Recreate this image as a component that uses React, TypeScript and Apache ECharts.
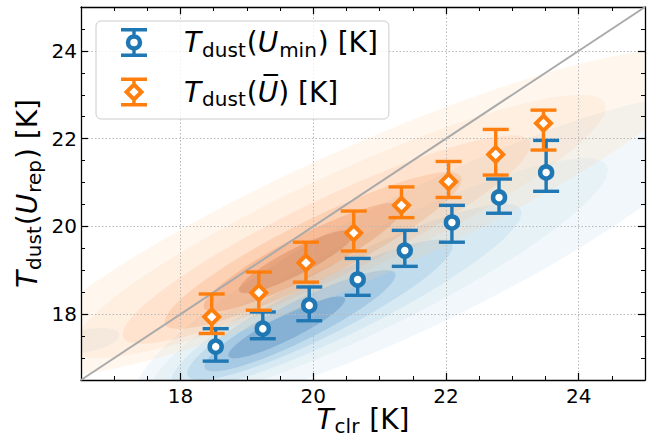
import React, { useEffect, useRef } from 'react';
import * as echarts from 'echarts';

// ---------- data ----------
const axisRange = [16.5, 25];
const majorTicks = [18, 20, 22, 24];
const minorTicks = [17, 17.5, 18.5, 19, 19.5, 20.5, 21, 21.5, 22.5, 23, 23.5, 24.5];
const oneToOne = [16.5, 25];

// T_dust(U_min)
const tclrMin = [18.53, 19.24, 19.94, 20.67, 21.38, 22.09, 22.8, 23.51];
const tdustMin = [17.26, 17.67, 18.2, 18.79, 19.45, 20.09, 20.66, 21.23];
const tdustMinLow = [16.93, 17.44, 17.85, 18.43, 19.09, 19.64, 20.3, 20.8];
const tdustMinHigh = [17.67, 18.05, 18.62, 19.27, 19.91, 20.48, 21.08, 21.96];

// T_dust(U_bar)
const tclrBar = [18.47, 19.18, 19.89, 20.61, 21.33, 22.04, 22.75, 23.47];
const tdustBar = [17.94, 18.49, 19.17, 19.85, 20.48, 21.02, 21.64, 22.35];
const tdustBarLow = [17.56, 18.09, 18.73, 19.44, 20.2, 20.66, 21.17, 21.74];
const tdustBarHigh = [18.46, 18.96, 19.64, 20.35, 20.9, 21.48, 22.21, 22.65];

// density contour levels: [centre x, centre y, half-length, half-width, angle(deg), level]
const blueContours = [
  [21.8, 19.4, 5.6, 1.35, 38, 0],
  [16.6, 17.4, 0.5, 0.25, 20, 0],
  [21.0, 18.8, 4.3, 0.95, 38, 1],
  [20.5, 18.4, 3.3, 0.72, 38, 2],
  [20.1, 18.1, 2.5, 0.55, 38, 3],
  [19.8, 17.85, 1.8, 0.4, 38, 4],
  [19.6, 17.7, 1.1, 0.25, 38, 5],
];
const orangeContours = [
  [20.7, 20.3, 6.2, 1.35, 35, 0],
  [20.4, 20.0, 4.9, 1.05, 36, 1],
  [20.2, 19.7, 3.8, 0.8, 37, 2],
  [20.0, 19.45, 2.8, 0.6, 38, 3],
  [19.85, 19.3, 1.9, 0.42, 39, 4],
  [19.75, 19.2, 1.1, 0.26, 39, 5],
];

const legendNames = ['Tmin', 'Tbar'];
const legendLabels: Record<string, string> = {
  Tmin: '{sp| }{it|T}{sub|dust}{n|(}{it|U}{sub|min}{n|) [K]}',
  Tbar: '{sp| }{it|T}{sub|dust}{n|(}{it|U\u0305}{n|) [K]}',
};
const xTitle = '{it|T}{sub|clr}{n| [K]}';
const yTitle = '{it|T}{sub|dust}{n|(}{it|U}{sub|rep}{n|) [K]}';

// ---------- styles ----------
const BLUE = '#1f77b4';
const ORANGE = '#ff7f0e';
const FONT = 'DejaVu Sans';
const blueLevels = ['#c6dbef', '#9ecae1', '#6baed6', '#4292c6', '#2171b5', '#08519c'];
const blueAlpha = [0.22, 0.12, 0.13, 0.15, 0.17, 0.2];
const orangeLevels = ['#fdd0a2', '#fdae6b', '#fd8d3c', '#f16913', '#d94801', '#a63603'];
const orangeAlpha = [0.18, 0.1, 0.11, 0.14, 0.16, 0.18];

const blueIcon =
  'path://M0 0H26V3.4H0Z M0 25.6H26V29H0Z M11.3 3.4H14.7V7.2H11.3Z M11.3 21.8H14.7V25.6H11.3Z ' +
  'M21.25 14.5A8.25 8.25 0 1 1 4.75 14.5A8.25 8.25 0 1 1 21.25 14.5Z ' +
  'M16.75 14.5A3.75 3.75 0 1 0 9.25 14.5A3.75 3.75 0 1 0 16.75 14.5Z';
const orangeIcon =
  'path://M0 0H26V3.4H0Z M0 25.6H26V29H0Z M11.3 3.4H14.7V6.5H11.3Z M11.3 22.5H14.7V25.6H11.3Z ' +
  'M13 4.2L23.3 14.5L13 24.8L2.7 14.5Z M13 9.9L8.4 14.5L13 19.1L17.6 14.5Z';

const richText = (size: number, sub: number, pad: number) => ({
  it: { fontFamily: FONT, fontStyle: 'italic', fontSize: size, color: '#000' },
  n: { fontFamily: FONT, fontSize: size, color: '#000' },
  sub: { fontFamily: FONT, fontSize: sub, color: '#000', padding: [pad, 1, 0, 1] },
  sp: { width: 32, fontSize: size },
});

const GRID = { left: 81, right: 14, top: 7, bottom: 57, containLabel: false, outerBoundsMode: 'none' };

function contourSeries(data: number[][], colors: string[], alphas: number[], z: number) {
  return {
    type: 'custom',
    z,
    silent: true,
    clip: true,
    dimensions: ['cx', 'cy', 'a', 'b', 'ang', 'lvl'],
    encode: { x: 0, y: 1 },
    data,
    renderItem: (_p: any, api: any) => {
      const cx = api.value(0), cy = api.value(1), a = api.value(2), b = api.value(3);
      const th = (api.value(4) * Math.PI) / 180;
      const lvl = api.value(5);
      const pts: number[][] = [];
      for (let i = 0; i < 90; i++) {
        const t = (i / 90) * Math.PI * 2;
        const dx = a * Math.cos(t), dy = b * Math.sin(t);
        pts.push(api.coord([cx + dx * Math.cos(th) - dy * Math.sin(th), cy + dx * Math.sin(th) + dy * Math.cos(th)]));
      }
      return { type: 'polygon', shape: { points: pts }, style: { fill: colors[lvl], opacity: alphas[lvl] } };
    },
  };
}

function errorSeries(name: string, xs: number[], lo: number[], hi: number[], color: string, z: number) {
  return {
    type: 'custom',
    name,
    z,
    encode: { x: 0, y: [1, 2] },
    data: xs.map((x, i) => [x, lo[i], hi[i]]),
    renderItem: (_p: any, api: any) => {
      const top = api.coord([api.value(0), api.value(2)]);
      const bot = api.coord([api.value(0), api.value(1)]);
      const st = { stroke: color, lineWidth: 3.4 };
      return {
        type: 'group',
        children: [
          { type: 'line', shape: { x1: top[0], y1: top[1], x2: bot[0], y2: bot[1] }, style: st },
          { type: 'line', shape: { x1: top[0] - 13, y1: top[1], x2: top[0] + 13, y2: top[1] }, style: st },
          { type: 'line', shape: { x1: bot[0] - 13, y1: bot[1], x2: bot[0] + 13, y2: bot[1] }, style: st },
        ],
      };
    },
  };
}

const majorAxis = (pos: string, labels: boolean, nameCfg: any = {}) => ({
  type: 'value',
  gridIndex: 0,
  position: pos,
  min: axisRange[0],
  max: axisRange[1],
  nameMoveOverlap: false,
  axisLine: { show: true, onZero: false, lineStyle: { color: '#000', width: 1.3 } },
  axisTick: { show: true, inside: true, length: 7, customValues: majorTicks, lineStyle: { color: '#000', width: 1.2 } },
  axisLabel: {
    show: labels,
    customValues: majorTicks,
    fontSize: 20,
    fontFamily: FONT,
    color: '#000',
    margin: pos === 'left' ? 4 : 6,
  },
  splitLine: labels
    ? { show: true, lineStyle: { color: '#b8b8b8', width: 1, type: [1.5, 2] } }
    : { show: false },
  ...nameCfg,
});

const minorAxis = (pos: string) => ({
  type: 'value',
  gridIndex: 1,
  position: pos,
  min: axisRange[0],
  max: axisRange[1],
  axisLine: { show: false },
  axisTick: { show: true, inside: true, length: 4, customValues: minorTicks, lineStyle: { color: '#000', width: 1 } },
  axisLabel: { show: false },
  splitLine: { show: false },
});

export default function App() {
  const ref = useRef<HTMLDivElement>(null);
  useEffect(() => {
    document.body.style.margin = '0';
    if (!ref.current) return;
    const chart = echarts.init(ref.current, null, { renderer: 'svg' });
    chart.setOption({
      animation: false,
      backgroundColor: '#ffffff',
      grid: [{ ...GRID }, { ...GRID }],
      xAxis: [
        majorAxis('bottom', true, {
          name: xTitle,
          nameLocation: 'middle',
          nameGap: 22,
          nameTextStyle: { rich: richText(28, 20, 14) },
        }),
        majorAxis('top', false),
        minorAxis('bottom'),
        minorAxis('top'),
      ],
      yAxis: [
        majorAxis('left', true, {
          name: yTitle,
          nameLocation: 'middle',
          nameGap: 37,
          nameTextStyle: { rich: richText(28, 20, 14) },
        }),
        majorAxis('right', false),
        minorAxis('left'),
        minorAxis('right'),
      ],
      legend: {
        left: 96,
        top: 21,
        orient: 'vertical',
        selectedMode: false,
        padding: [7, 11, 10, 25],
        itemGap: 18,
        itemWidth: 26,
        itemHeight: 29,
        backgroundColor: 'rgba(255,255,255,0.8)',
        borderColor: '#cccccc',
        borderWidth: 1,
        borderRadius: 5,
        data: [
          { name: legendNames[0], icon: blueIcon, itemStyle: { color: BLUE, borderWidth: 0, borderColor: 'transparent' } },
          { name: legendNames[1], icon: orangeIcon, itemStyle: { color: ORANGE, borderWidth: 0, borderColor: 'transparent' } },
        ],
        formatter: (n: string) => legendLabels[n],
        textStyle: { color: '#000', fontSize: 28, fontFamily: FONT, rich: richText(28, 20, 14) },
      },
      series: [
        contourSeries(blueContours, blueLevels, blueAlpha, -2),
        contourSeries(orangeContours, orangeLevels, orangeAlpha, -1),
        {
          type: 'line',
          z: 2,
          silent: true,
          symbol: 'none',
          data: oneToOne.map((v) => [v, v]),
          lineStyle: { color: '#aaaaaa', width: 2 },
        },
        errorSeries(legendNames[0], tclrMin, tdustMinLow, tdustMinHigh, BLUE, 3),
        {
          type: 'scatter',
          name: legendNames[0],
          z: 4,
          symbol: 'circle',
          symbolSize: 12,
          data: tclrMin.map((x, i) => [x, tdustMin[i]]),
          itemStyle: { color: '#ffffff', borderColor: BLUE, borderWidth: 4.5, opacity: 1 },
        },
        errorSeries(legendNames[1], tclrBar, tdustBarLow, tdustBarHigh, ORANGE, 5),
        {
          type: 'scatter',
          name: legendNames[1],
          z: 6,
          symbol: 'diamond',
          symbolSize: 15,
          data: tclrBar.map((x, i) => [x, tdustBar[i]]),
          itemStyle: { color: '#ffffff', borderColor: ORANGE, borderWidth: 4, borderJoin: 'miter', opacity: 1 },
        },
      ],
    });
    return () => chart.dispose();
  }, []);
  return <div ref={ref} style={{ width: 659, height: 437 }} />;
}
